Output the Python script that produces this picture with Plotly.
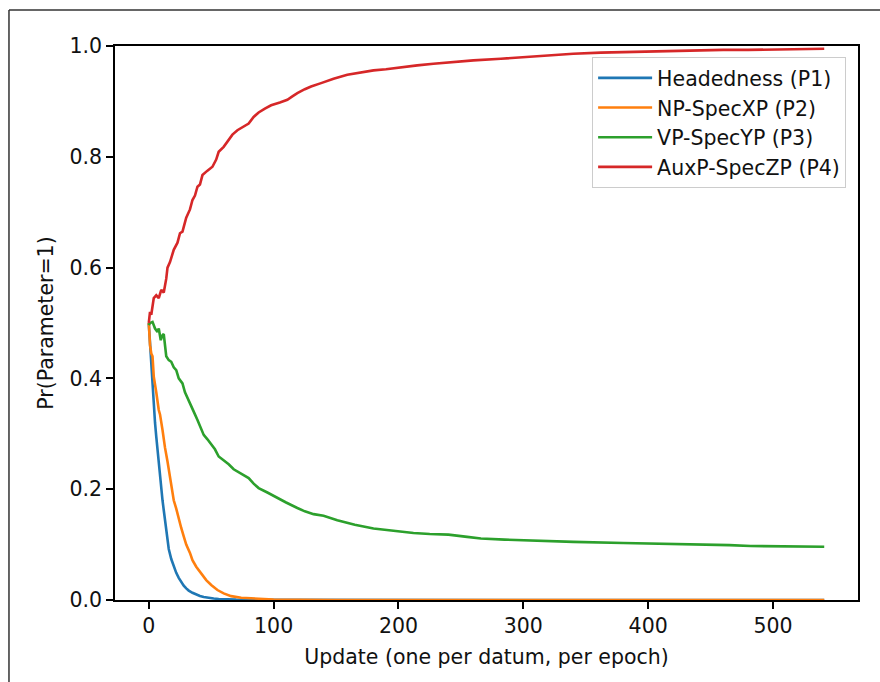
import plotly.graph_objects as go

# Posterior probability of each parameter being set to 1, per update step
p1_x = [0, 1, 2, 3, 4, 5, 6, 7, 8, 9, 10, 11, 12, 13, 14, 15, 16, 18, 20, 22, 24, 26, 28, 30, 32, 35, 38, 41, 44, 48, 52, 56, 62, 70, 80, 95, 120, 200, 300, 400, 500, 541]
p1_y = [0.5, 0.46, 0.43, 0.39, 0.35, 0.32, 0.295, 0.27, 0.245, 0.222, 0.2, 0.18, 0.162, 0.145, 0.13, 0.108, 0.092, 0.074, 0.06, 0.049, 0.04, 0.032, 0.026, 0.021, 0.017, 0.013, 0.0095, 0.0072, 0.0055, 0.0038, 0.0027, 0.0019, 0.0011, 0.0006, 0.0002, 0.0001, 0.0, 0.0, 0.0, 0.0, 0.0, 0.0]

p2_x = [0, 1, 2, 3, 4, 5, 6, 8, 9, 11, 12, 13, 15, 16, 18, 20, 22, 24, 26, 28, 30, 33, 35, 38, 42, 46, 50, 55, 60, 66, 74, 87, 100, 120, 150, 300, 541]
p2_y = [0.5, 0.46, 0.445, 0.44, 0.403, 0.39, 0.375, 0.343, 0.335, 0.307, 0.29, 0.275, 0.25, 0.235, 0.21, 0.18, 0.165, 0.145, 0.13, 0.115, 0.1, 0.085, 0.072, 0.06, 0.048, 0.036, 0.027, 0.018, 0.012, 0.007, 0.004, 0.002, 0.001, 0.0003, 0.0, 0.0, 0.0]

p3_x = [0, 1, 3, 5, 7, 8, 9.6, 11, 12, 13, 14, 16, 18, 20, 22, 24, 27, 29, 31, 33, 36, 39, 42, 44, 47, 50, 53, 56, 60, 64, 68, 71, 75, 80, 84, 88, 95, 103, 110, 119, 125, 132, 140, 151, 165, 180, 195, 212, 225, 240, 255, 266, 285, 308, 340, 380, 410, 444, 465, 482, 510, 541]
p3_y = [0.496, 0.5, 0.502, 0.49, 0.484, 0.49, 0.469, 0.478, 0.48, 0.46, 0.44, 0.433, 0.43, 0.42, 0.415, 0.4, 0.391, 0.375, 0.364, 0.355, 0.34, 0.325, 0.31, 0.298, 0.29, 0.28, 0.272, 0.259, 0.252, 0.245, 0.236, 0.232, 0.226, 0.22, 0.21, 0.202, 0.194, 0.184, 0.176, 0.166, 0.16, 0.155, 0.152, 0.144, 0.136, 0.129, 0.125, 0.121, 0.119, 0.118, 0.114, 0.111, 0.109, 0.107, 0.105, 0.103, 0.102, 0.101, 0.099, 0.0975, 0.097, 0.096]

p4_x = [0, 1, 2, 3, 4, 6, 8, 10, 12, 14, 15, 17, 20, 23, 25, 27, 30, 33, 35, 37, 39, 41, 43, 47, 51, 54, 56, 60, 63, 67, 71, 75, 80, 84, 88, 93, 98, 105, 111, 115, 119, 125, 130, 138, 148, 159, 170, 180, 190, 202, 215, 228, 242, 260, 282, 300, 322, 340, 362, 380, 400, 420, 440, 460, 480, 500, 520, 541]
p4_y = [0.5, 0.52, 0.515, 0.53, 0.545, 0.55, 0.545, 0.56, 0.555, 0.58, 0.6, 0.61, 0.632, 0.645, 0.662, 0.665, 0.69, 0.705, 0.722, 0.73, 0.746, 0.75, 0.767, 0.775, 0.782, 0.795, 0.809, 0.818, 0.827, 0.84, 0.848, 0.853, 0.86, 0.872, 0.88, 0.887, 0.893, 0.898, 0.903, 0.909, 0.915, 0.922, 0.927, 0.933, 0.941, 0.948, 0.952, 0.956, 0.958, 0.962, 0.965, 0.968, 0.971, 0.974, 0.977, 0.98, 0.984, 0.986, 0.988, 0.989, 0.99, 0.991, 0.992, 0.993, 0.993, 0.994, 0.995, 0.995]

series = [
    ("Headedness (P1)", p1_x, p1_y, "#1f77b4"),
    ("NP-SpecXP (P2)", p2_x, p2_y, "#ff7f0e"),
    ("VP-SpecYP (P3)", p3_x, p3_y, "#2ca02c"),
    ("AuxP-SpecZP (P4)", p4_x, p4_y, "#d62728"),
]

x_ticks = [0, 100, 200, 300, 400, 500]
y_ticks = [0.0, 0.2, 0.4, 0.6, 0.8, 1.0]

FONT = "DejaVu Sans"
FS = 20.5
TXT = "#111111"

fig = go.Figure()
for name, xs, ys, color in series:
    fig.add_trace(go.Scatter(x=xs, y=ys, mode="lines", name=name,
                             line=dict(color=color, width=2.6)))

axis_common = dict(showgrid=False, zeroline=False, showline=True, mirror=True,
                   linecolor="black", linewidth=1.5, ticks="outside", ticklen=7,
                   tickwidth=1.5, tickcolor="black",
                   tickfont=dict(family=FONT, size=FS, color=TXT))

fig.update_xaxes(range=[-27.05, 568.05], tickvals=x_ticks,
                 title=dict(text="Update (one per datum, per epoch)", standoff=12,
                            font=dict(family=FONT, size=FS, color=TXT)),
                 **axis_common)
fig.update_yaxes(range=[0, 1], tickvals=y_ticks, tickformat=".1f",
                 title=dict(text="Pr(Parameter=1)", standoff=10,
                            font=dict(family=FONT, size=FS, color=TXT)),
                 **axis_common)

# Outer frame around the figure (top and left edges)
fig.add_shape(type="line", xref="paper", yref="paper",
              x0=-0.1427, y0=1.065, x1=1.2, y1=1.065,
              line=dict(color="#333333", width=1.5))
fig.add_shape(type="line", xref="paper", yref="paper",
              x0=-0.1427, y0=1.065, x1=-0.1427, y1=-0.3,
              line=dict(color="#333333", width=1.5))

fig.update_layout(
    width=880, height=682,
    margin=dict(l=115, r=22, t=46, b=82),
    paper_bgcolor="white", plot_bgcolor="white",
    font=dict(family=FONT, size=FS, color=TXT),
    showlegend=True,
    legend=dict(x=0.984, y=0.98, xanchor="right", yanchor="top",
                bgcolor="rgba(255,255,255,0.85)", bordercolor="#cccccc", borderwidth=1,
                font=dict(family=FONT, size=FS, color=TXT),
                tracegroupgap=0, itemwidth=54),
)

fig.write_html("out.html")
